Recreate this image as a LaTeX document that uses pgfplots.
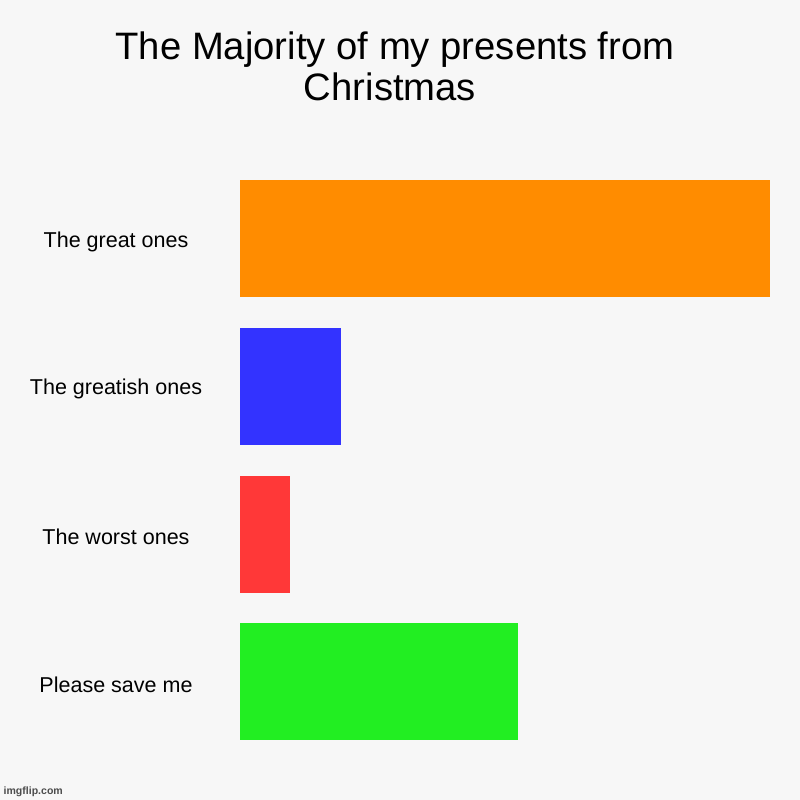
\documentclass[border=0pt]{standalone}
\usepackage{fontspec}
\setmainfont{Liberation Sans}
\usepackage{pgfplots}
\pgfplotsset{compat=1.18}
\definecolor{bg}{HTML}{F7F7F7}
\definecolor{cOrange}{HTML}{FF8C00}
\definecolor{cBlue}{HTML}{3333FF}
\definecolor{cRed}{HTML}{FF3838}
\definecolor{cGreen}{HTML}{22EE22}
\begin{document}
\begin{tikzpicture}
% canvas: 800px = 20cm, 1px = 0.025cm
\fill[bg] (0,0) rectangle (20,20);
\node[anchor=base, font=\fontsize{27.2}{32}\selectfont] at (9.875,18.5) {The Majority of my presents from};
\node[anchor=base, font=\fontsize{27.2}{32}\selectfont] at (9.75,17.475) {Christmas};
\node[anchor=south west, inner sep=1pt, text=black!70, font=\fontsize{7.5}{9}\selectfont\bfseries] at (0.05,0.05) {imgflip.com};
\begin{axis}[
  at={(6cm,15.875cm)},
  anchor=north west,
  scale only axis,
  width=13.25cm,
  height=14.77cm,
  xbar,
  bar width=2.925cm,
  bar shift=0pt,
  xmin=0, xmax=10.5,
  ymin=-0.5, ymax=3.5,
  axis line style={draw=none},
  major tick length=0pt,
  xtick=\empty,
  ytick={0,1,2,3},
  yticklabels={Please save me, The worst ones, The greatish ones, The great ones},
  yticklabel style={anchor=center, xshift=-3.1cm, yshift=-0.07cm, font=\fontsize{15.3}{18}\selectfont},
  clip=false,
]
\addplot[draw=none, fill=cOrange] coordinates {(10.5,3)};
\addplot[draw=none, fill=cBlue] coordinates {(2,2)};
\addplot[draw=none, fill=cRed] coordinates {(1,1)};
\addplot[draw=none, fill=cGreen] coordinates {(5.5,0)};
\end{axis}
\end{tikzpicture}
\end{document}
